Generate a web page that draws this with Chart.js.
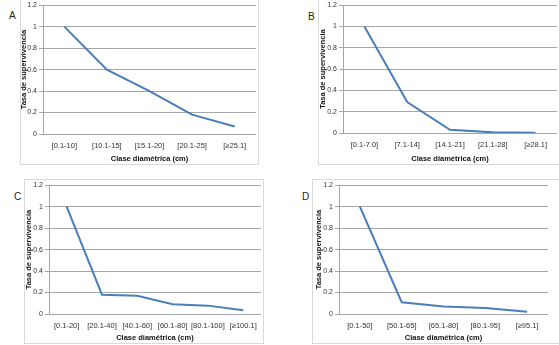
<!DOCTYPE html>
<html>
<head>
<meta charset="utf-8">
<script src="https://cdn.jsdelivr.net/npm/chart.js@4"></script>
<style>
  body { margin: 0; background: #fff; width: 559px; height: 345px; position: relative; overflow: hidden; font-family: "Liberation Sans", Arial, sans-serif; }
  .box { position: absolute; border: 1px solid #d9d9d9; box-sizing: border-box; }
  .box canvas { position: absolute; left: -1px; top: -1px; }
  .letra { position: absolute; font-size: 10px; color: #222; line-height: 12px; }
</style>
</head>
<body>
<div class="box" style="left:20px;top:-1px;width:239px;height:166px"><canvas id="graficoA"></canvas></div>
<div class="box" style="left:318px;top:-1px;width:243px;height:166px"><canvas id="graficoB"></canvas></div>
<div class="box" style="left:24px;top:179px;width:240px;height:165px"><canvas id="graficoC"></canvas></div>
<div class="box" style="left:312px;top:179px;width:249px;height:165px"><canvas id="graficoD"></canvas></div>
<div class="letra" style="left:9px;top:10px">A</div>
<div class="letra" style="left:308px;top:11px">B</div>
<div class="letra" style="left:14px;top:191px">C</div>
<div class="letra" style="left:302px;top:191px">D</div>
<script>
// Datos
const clasesA = ['[0.1-10]', '[10.1-15]', '[15.1-20]', '[20.1-25]', '[≥25.1]'];
const tasaA = [1.0, 0.60, 0.40, 0.18, 0.07];

const clasesB = ['[0.1-7.0]', '[7.1-14]', '[14.1-21]', '[21.1-28]', '[≥28.1]'];
const tasaB = [1.0, 0.29, 0.03, 0.006, 0.002];

const clasesC = ['[0.1-20]', '[20.1-40]', '[40.1-60]', '[60.1-80]', '[80.1-100]', '[≥100.1]'];
const tasaC = [1.0, 0.18, 0.17, 0.09, 0.078, 0.035];

const clasesD = ['[0.1-50]', '[50.1-65]', '[65.1-80]', '[80.1-95]', '[≥95.1]'];
const tasaD = [1.0, 0.11, 0.07, 0.057, 0.02];

const ticksY = [0, 0.2, 0.4, 0.6, 0.8, 1, 1.2];

const tituloY = 'Tasa de supervivencia';
const tituloX = 'Clase diamétrica (cm)';

const fuente = "'Liberation Sans', Arial, sans-serif";

// Crea un gráfico de línea; la caja y el área de trazado en px relativos al lienzo
const crearGrafico = (canvasId, etiquetas, valores, caja, area) => {
    const canvas = document.getElementById(canvasId);
    canvas.width = caja.w;
    canvas.height = caja.h;
    canvas.style.width = caja.w + 'px';
    canvas.style.height = caja.h + 'px';
    new Chart(canvas.getContext('2d'), {
        type: 'line',
        data: {
            labels: etiquetas,
            datasets: [{
                data: valores,
                borderColor: '#4a7ebb',
                borderWidth: 2,
                pointRadius: 0,
                tension: 0,
                fill: false
            }]
        },
        options: {
            responsive: false,
            animation: false,
            layout: { padding: { top: area.t, right: area.r, left: 0, bottom: 0 } },
            plugins: { legend: { display: false }, tooltip: { enabled: false } },
            scales: {
                x: {
                    offset: true,
                    grid: { display: false, drawTicks: false },
                    border: { display: false },
                    ticks: { color: '#333', font: { family: fuente, size: 7.5 }, padding: 7, maxRotation: 0, autoSkip: false },
                    title: { display: true, text: tituloX, color: '#111', font: { family: fuente, size: 7.5, weight: 'bold' }, padding: { top: 0, bottom: 0.5 } },
                    afterFit: (scale) => { scale.height = area.b; }
                },
                y: {
                    min: 0,
                    max: 1.2,
                    afterBuildTicks: (scale) => { scale.ticks = ticksY.map(v => ({ value: v })); },
                    grid: { color: '#a6a6a6', lineWidth: 1, tickLength: 4 },
                    border: { display: true, color: '#a6a6a6' },
                    ticks: { color: '#333', font: { family: fuente, size: 7 }, padding: 2, callback: (v) => String(v) },
                    title: { display: true, text: tituloY, color: '#111', font: { family: fuente, size: 7.5, weight: 'bold' }, padding: { top: area.tt, bottom: 0 } },
                    afterFit: (scale) => { scale.width = area.l; }
                }
            }
        }
    });
};

crearGrafico('graficoA', clasesA, tasaA, { w: 239, h: 165 }, { l: 23, t: 5, r: 3, b: 30, tt: -0.5 });
crearGrafico('graficoB', clasesB, tasaB, { w: 241, h: 165 }, { l: 25, t: 5, r: 2, b: 31, tt: 0 });
crearGrafico('graficoC', clasesC, tasaC, { w: 240, h: 164 }, { l: 25, t: 5, r: 3, b: 29, tt: 0 });
crearGrafico('graficoD', clasesD, tasaD, { w: 247, h: 164 }, { l: 27, t: 6, r: 11, b: 29, tt: 2 });
</script>
</body>
</html>
